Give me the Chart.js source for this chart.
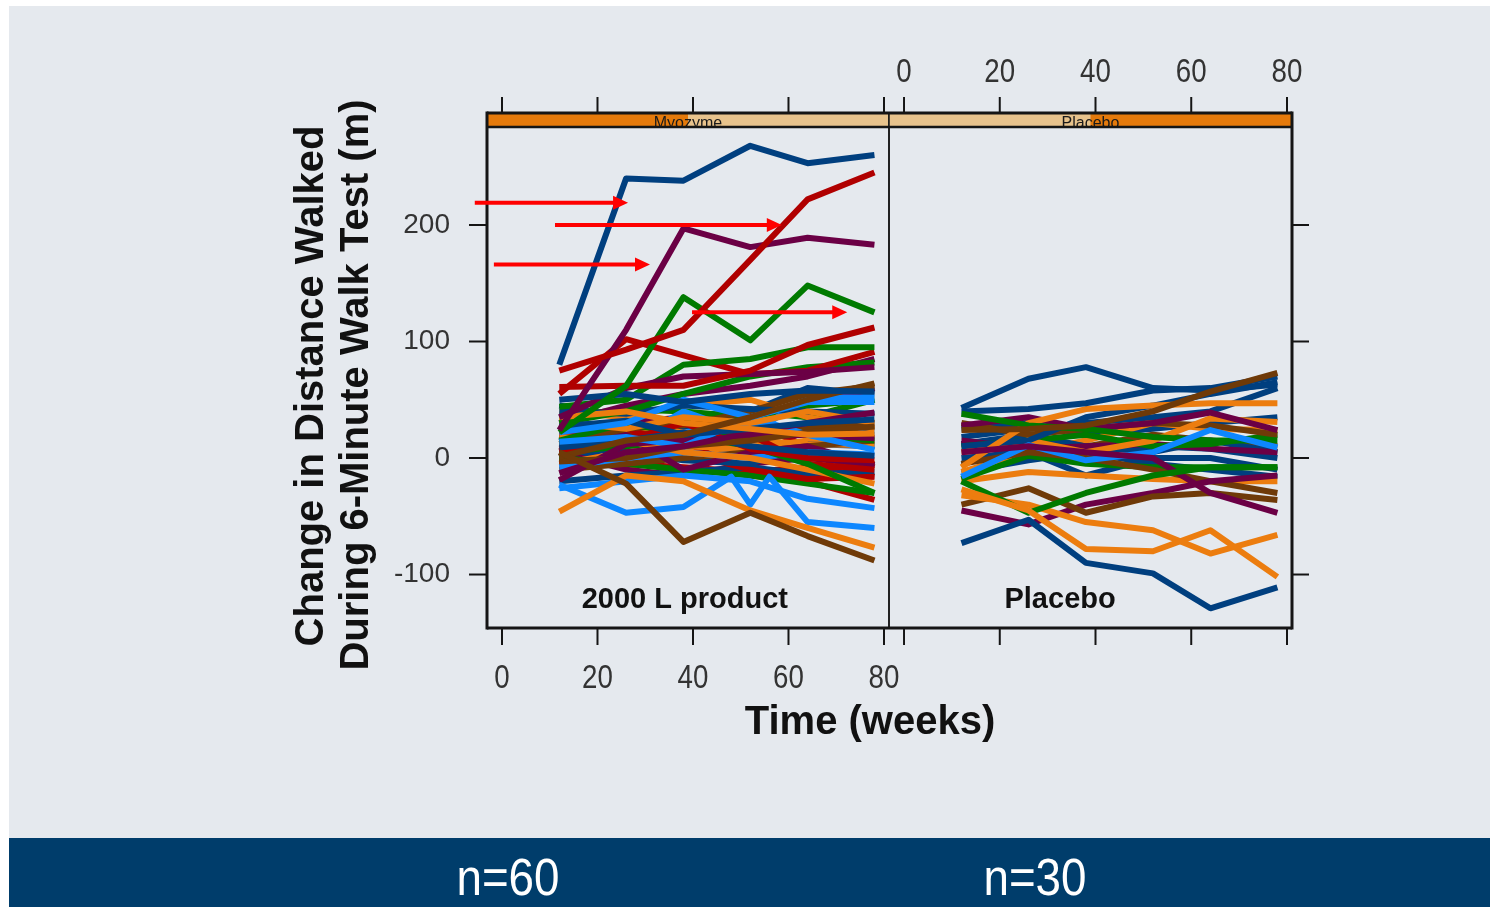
<!DOCTYPE html>
<html>
<head>
<meta charset="utf-8">
<script src="https://cdn.jsdelivr.net/npm/chart.js@4.4.0/dist/chart.umd.min.js"></script>
<style>
  html, body { margin: 0; padding: 0; background: #fff; }
  #page { position: relative; width: 1490px; height: 907px; overflow: hidden; background: #fff; }
  #bg { position: absolute; left: 9px; top: 6px; width: 1481px; height: 832px; background: #e5e9ee; }
  #band { position: absolute; left: 9px; top: 838px; width: 1481px; height: 69px; background: #003d6b; }
  .count { position: absolute; top: 847px; width: 200px; margin-left: -100px; text-align: center;
           color: #fff; font: 52px "Liberation Sans", Arial, sans-serif; line-height: 60px;
           transform: scaleX(0.88); }
  canvas { position: absolute; left: 0; top: 0; }
</style>
</head>
<body>
<div id="page">
  <div id="bg"></div>
  <div id="band"></div>
  <div class="count" id="count1" style="left:508px"></div>
  <div class="count" id="count2" style="left:1035px"></div>
  <canvas id="panelA" width="1490" height="907"></canvas>
  <canvas id="panelB" width="1490" height="907"></canvas>
</div>
<script>
// visit schedule (weeks)
const weeks = [12, 26, 38, 52, 64, 78];
const weeksExtra = [12, 26, 38, 48, 52, 56, 64, 78];

const xTicks = [0, 20, 40, 60, 80];
const yTicks = [-100, 0, 100, 200];
const yTickLabels = ['-100', '0', '100', '200'];

const stripNames = ['Myozyme', 'Placebo'];
const panelLabels = ['2000 L product', 'Placebo'];
const groupCounts = ['n=60', 'n=30'];

// red arrows: level (m) and start/end (weeks)
const arrowLevel = [219, 200, 166, 125];
const arrowFrom = [-5.7, 11.1, -1.7, 39.8];
const arrowTo = [26.4, 58.6, 31, 72.3];

// 2000 L product patients, by line colour
const treatedNavy = [
  [80, 240, 238, 268, 253, 260],
  [50, 55, 48, 55, 58, 57],
  [27, 32, 20, 25, 30, 33],
  [9, 15, 22, 10, 5, 2],
  [40, 38, 45, 42, 40, 38],
  [18, 5, -2, -5, 12, 10],
  [-20, -15, -12, -8, -14, -12],
  [0, 10, 25, 15, 30, 25],
  [45, 35, 30, 40, 60, 55]
];
const treatedRed = [
  [75, 93, 110, 170, 222, 245],
  [61, 62, 62, 75, 97, 112],
  [55, 102, 88, 72, 75, 91],
  [5, 15, 30, 8, 0, -2],
  [20, 25, 10, 20, -5, -10],
  [-5, 0, 5, -10, -18, -16],
  [30, 20, 15, -15, -20, -36],
  [10, -5, -8, -12, -8, -16],
  [8, 18, 25, 30, 10, -8]
];
const treatedPurple = [
  [24, 110, 197, 181, 189, 183],
  [35, 60, 70, 72, 74, 78],
  [-13, 5, 10, 22, 30, 39],
  [-19, 12, 15, 18, 20, 17],
  [15, 20, -10, 5, 10, -6],
  [30, 45, 55, 62, 70, 85],
  [5, -10, -15, -5, 0, -6],
  [25, 30, 35, 40, 45, 60]
];
const treatedGreen = [
  [22, 62, 138, 101, 148, 125],
  [44, 50, 80, 85, 95, 95],
  [30, 40, 55, 70, 78, 82],
  [15, 30, 20, 10, -5, -30],
  [5, 10, 15, 25, 20, 15],
  [0, -5, -10, -15, -22, -30],
  [35, 42, 40, 35, 45, 50],
  [12, 20, 30, 40, 35, 50]
];
const treatedBrown = [
  [5, -22, -72, -47, -67, -88],
  [1, 15, 20, 35, 50, 64],
  [-3, 0, 10, 15, 22, 27],
  [12, 25, 30, 20, 25, 30],
  [-10, -5, 0, 5, 10, 15],
  [20, 22, 28, 40, 55, 62]
];
const treatedOrange = [
  [-46, -15, -20, -45, -60, -77],
  [35, 40, 30, 25, 20, 21],
  [31, 25, 35, 30, 40, 30],
  [18, 15, 5, 0, -10, -22],
  [20, 28, 22, 15, 12, 11],
  [-5, 5, 10, 8, 15, 20],
  [40, 35, 45, 50, 35, 25],
  [0, -8, 5, 10, 5, -5]
];
const treatedLightBlue = [
  [-23, -47, -42, -16, -40, -16, -55, -60],
  [22, 30, 50, 35, 48, 48],
  [14, 18, 10, 35, 20, 7],
  [-8, 0, 5, 0, 5, 3],
  [-26, -20, -15, -20, -35, -43],
  [5, 12, 40, 20, 52, 52],
  [30, 28, 22, 30, 25, 20]
];

// placebo patients, by line colour
const placeboNavy = [
  [-73, -53, -90, -99, -129, -111],
  [43, 68, 78, 60, 58, 63],
  [40, 42, 47, 58, 60, 70],
  [10, 15, 35, 45, 55, 65],
  [12, 20, 10, 5, 15, 5],
  [0, 5, -15, 0, 0, -10],
  [-5, 10, 5, -5, -10, -16],
  [25, 30, 20, 25, 30, 35],
  [-12, -2, 5, 10, 8, 0],
  [18, 25, 30, 35, 40, 60]
];
const placeboOrange = [
  [-27, -45, -78, -80, -62, -102],
  [-32, -40, -55, -62, -82, -66],
  [-8, 30, 42, 45, 47, 47],
  [5, 15, 5, 15, 34, 31],
  [-20, -12, -15, -18, -20, -20],
  [-12, 5, 15, 30, 25, 24]
];
const placeboBrown = [
  [24, 25, 28, 40, 57, 73],
  [-40, -26, -47, -33, -30, -36],
  [-5, 5, 0, -10, -20, -30],
  [30, 20, 25, 30, 28, 20],
  [12, 18, 10, 20, 15, 10]
];
const placeboGreen = [
  [-20, -47, -30, -15, -8, -8],
  [38, 28, 25, 18, 15, 15],
  [-18, 2, -5, -8, -8, -8],
  [10, 15, 20, 10, 12, 20]
];
const placeboPurple = [
  [5, 10, 5, 0, -30, -47],
  [-45, -57, -40, -30, -20, -15],
  [28, 35, 25, 30, 39, 24],
  [15, 8, 10, 12, 8, 5]
];
const placeboLightBlue = [
  [-16, 11, -2, 5, 24, 9]
];

const navy = '#003f7f', red = '#b00000', purple = '#6b0045', green = '#007a00',
      brown = '#6f3a08', orange = '#ec7d0f', lightBlue = '#0d87ff';

// interleave patients so colours mix like the original spaghetti plot
function buildDatasets(groups) {
  const out = [];
  const longest = Math.max(...groups.map(g => g[1].length));
  for (let i = 0; i < longest; i++) {
    groups.forEach(([color, rows]) => {
      const row = rows[i];
      if (!row) return;
      const t = row.length === weeks.length ? weeks : weeksExtra;
      out.push({
        data: row.map((v, j) => ({ x: t[j], y: v })),
        borderColor: color,
        borderWidth: 6,
        borderJoinStyle: 'round',
        pointRadius: 0,
        tension: 0,
        fill: false
      });
    });
  }
  return out;
}

function seg(ctx, x1, y1, x2, y2) {
  ctx.beginPath(); ctx.moveTo(x1, y1); ctx.lineTo(x2, y2); ctx.stroke();
}

// narrow tick numbers, as in the original figure
function narrowText(ctx, text, px, py) {
  ctx.save();
  ctx.translate(px, py);
  ctx.scale(0.84, 1);
  ctx.fillText(text, 0, 0);
  ctx.restore();
}

const lattice = {
  id: 'lattice',
  afterDraw(chart, args, o) {
    const { ctx, chartArea: a } = chart;
    const x = chart.scales.x, y = chart.scales.y;
    const stripTop = a.top - 14;
    const mid = (a.left + a.right) / 2;
    ctx.save();

    // strip
    ctx.fillStyle = '#e8c38c';
    ctx.fillRect(a.left, stripTop, a.right - a.left, 14);
    ctx.fillStyle = '#e57a0b';
    if (o.level === 1) ctx.fillRect(a.left, stripTop, mid - a.left, 14);
    else ctx.fillRect(mid, stripTop, a.right - mid, 14);
    ctx.save();
    ctx.beginPath(); ctx.rect(a.left, stripTop, a.right - a.left, 14); ctx.clip();
    ctx.fillStyle = '#1a1a1a';
    ctx.font = '16px "Liberation Sans", Arial, sans-serif';
    ctx.textAlign = 'center'; ctx.textBaseline = 'middle';
    ctx.fillText(o.strip, mid, stripTop + 11);
    ctx.restore();

    // frame
    ctx.strokeStyle = '#151515';
    ctx.lineWidth = 3;
    seg(ctx, a.left, stripTop, a.right, stripTop);
    seg(ctx, a.left, a.bottom, a.right, a.bottom);
    ctx.lineWidth = 2.5;
    seg(ctx, a.left, a.top, a.right, a.top);
    const outer = o.side === 'left' ? a.left : a.right;
    const inner = o.side === 'left' ? a.right : a.left;
    ctx.lineWidth = 3;
    seg(ctx, outer, stripTop - 1.5, outer, a.bottom + 1.5);
    ctx.lineWidth = 1.5;
    seg(ctx, inner, stripTop, inner, a.bottom);

    // ticks
    ctx.lineWidth = 2;
    xTicks.forEach(v => {
      const p = x.getPixelForValue(v);
      seg(ctx, p, stripTop - 16, p, stripTop);
      seg(ctx, p, a.bottom, p, a.bottom + 17);
    });
    yTicks.forEach(v => {
      const p = y.getPixelForValue(v);
      if (o.side === 'left') seg(ctx, a.left - 18, p, a.left, p);
      else seg(ctx, a.right, p, a.right + 17, p);
    });

    // tick labels
    ctx.fillStyle = '#333';
    ctx.textBaseline = 'middle';
    if (o.side === 'left') {
      ctx.font = '28px "Liberation Sans", Arial, sans-serif';
      ctx.textAlign = 'right';
      yTicks.forEach((v, i) => ctx.fillText(yTickLabels[i], a.left - 37, y.getPixelForValue(v)));
      ctx.font = '33px "Liberation Sans", Arial, sans-serif';
      ctx.textAlign = 'center';
      xTicks.forEach(v => narrowText(ctx, String(v), x.getPixelForValue(v), a.bottom + 51));
    } else {
      ctx.font = '33px "Liberation Sans", Arial, sans-serif';
      ctx.textAlign = 'center';
      xTicks.forEach(v => narrowText(ctx, String(v), x.getPixelForValue(v), stripTop - 40));
    }

    // panel label
    ctx.fillStyle = '#111';
    ctx.font = 'bold 29px "Liberation Sans", Arial, sans-serif';
    ctx.textAlign = 'center';
    ctx.fillText(o.label, x.getPixelForValue(o.labelAt[0]), y.getPixelForValue(o.labelAt[1]));

    // arrows
    if (o.arrows) {
      ctx.strokeStyle = '#ff0000';
      ctx.fillStyle = '#ff0000';
      ctx.lineWidth = 4;
      arrowLevel.forEach((lv, i) => {
        const py = y.getPixelForValue(lv);
        const x0 = x.getPixelForValue(arrowFrom[i]);
        const x1 = x.getPixelForValue(arrowTo[i]);
        seg(ctx, x0, py, x1 - 10, py);
        ctx.beginPath();
        ctx.moveTo(x1, py); ctx.lineTo(x1 - 15, py - 7); ctx.lineTo(x1 - 15, py + 7);
        ctx.closePath(); ctx.fill();
      });
    }

    // axis titles (drawn once, by the first panel)
    if (o.titles) {
      ctx.fillStyle = '#111';
      ctx.font = 'bold 40px "Liberation Sans", Arial, sans-serif';
      ctx.textAlign = 'center';
      ctx.fillText('Time (weeks)', 870, 723);
      ctx.save();
      ctx.translate(312, 386);
      ctx.rotate(-Math.PI / 2);
      ctx.fillText('Change in Distance Walked', 0, 0);
      ctx.restore();
      ctx.save();
      ctx.translate(357, 385);
      ctx.rotate(-Math.PI / 2);
      ctx.fillText('During 6-Minute Walk Test (m)', 0, 0);
      ctx.restore();
    }
    ctx.restore();
  }
};

function makePanel(id, datasets, padding, latticeOpts) {
  return new Chart(document.getElementById(id), {
    type: 'line',
    data: { datasets },
    options: {
      responsive: false,
      animation: false,
      devicePixelRatio: 1,
      layout: { padding },
      plugins: {
        legend: { display: false },
        tooltip: { enabled: false },
        lattice: latticeOpts
      },
      scales: {
        x: { type: 'linear', min: -3.14, max: 81.05, display: false },
        y: { type: 'linear', min: -145.9, max: 284.1, display: false }
      }
    },
    plugins: [lattice]
  });
}

makePanel('panelA', buildDatasets([
  [navy, treatedNavy], [red, treatedRed], [purple, treatedPurple], [green, treatedGreen],
  [brown, treatedBrown], [orange, treatedOrange], [lightBlue, treatedLightBlue]
]), { left: 487, right: 601, top: 127, bottom: 279 }, {
  side: 'left', level: 1, strip: stripNames[0], label: panelLabels[0],
  labelAt: [38.3, -122], arrows: true, titles: true
});

makePanel('panelB', buildDatasets([
  [navy, placeboNavy], [orange, placeboOrange], [brown, placeboBrown],
  [green, placeboGreen], [purple, placeboPurple], [lightBlue, placeboLightBlue]
]), { left: 889, right: 198, top: 127, bottom: 279 }, {
  side: 'right', level: 2, strip: stripNames[1], label: panelLabels[1],
  labelAt: [32.6, -122], arrows: false, titles: false
});

document.getElementById('count1').textContent = groupCounts[0];
document.getElementById('count2').textContent = groupCounts[1];
</script>
</body>
</html>
